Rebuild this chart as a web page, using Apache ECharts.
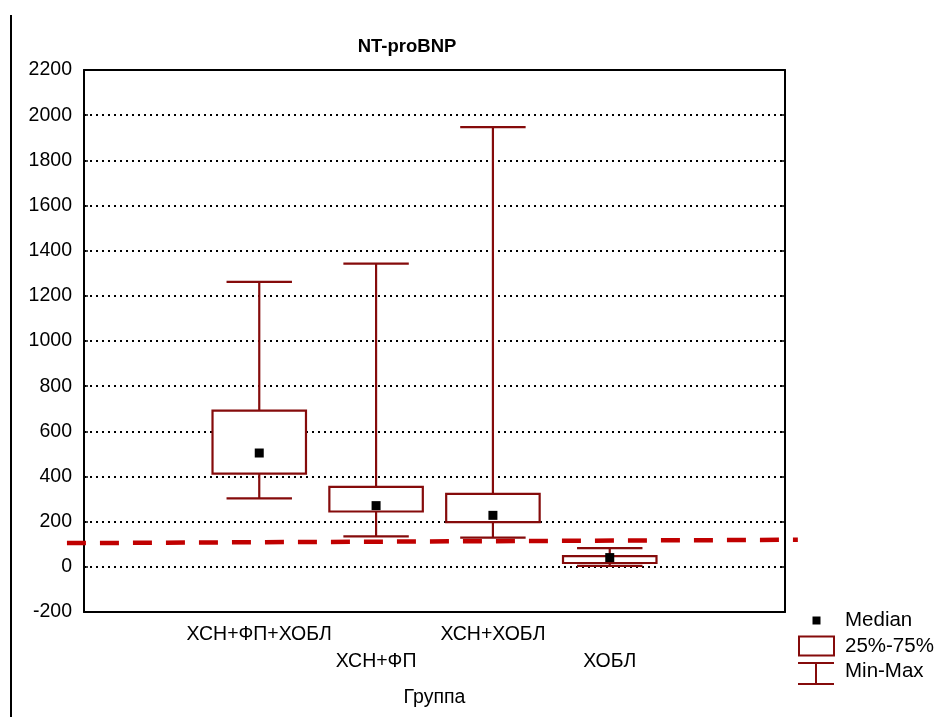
<!DOCTYPE html>
<html>
<head>
<meta charset="utf-8">
<script src="https://cdn.jsdelivr.net/npm/echarts@6/dist/echarts.min.js"></script>
<style>
  html, body { margin: 0; padding: 0; background: #fff; }
  #chart { width: 942px; height: 717px; }
</style>
</head>
<body>
<div id="chart"></div>
<script>
// Groups along the x axis (first and last slots are empty padding slots)
const categories = ['', 'ХСН+ФП+ХОБЛ', 'ХСН+ФП', 'ХСН+ХОБЛ', 'ХОБЛ', '\u00a0'];
const groupIndex = [1, 2, 3, 4];

// NT-proBNP statistics per group
const minValues    = [303, 135, 129, 4];
const q1Values     = [413, 245, 198, 17];
const medianValues = [504, 271, 228, 41];
const q3Values     = [692, 354, 323, 47];
const maxValues    = [1262, 1343, 1947, 83];

// Reference threshold line (endpoints on a 0..6 helper scale, y in pg/ml)
const refLineX = [-0.146, 6.11];
const refLineY = [105, 120];

const yTicks = { min: -200, max: 2200, step: 200 };

const FONT = 'Liberation Sans';
const BOX_COLOR = '#850b0b';

const boxData = groupIndex.map((g, i) => [g, minValues[i], q1Values[i], q3Values[i], maxValues[i]]);
const medianData = groupIndex.map((g, i) => [g, medianValues[i]]);
const refData = [[refLineX[0], refLineY[0], refLineX[1], refLineY[1]]];

function renderBox(params, api) {
  const x = api.value(0);
  const pMin = api.coord([x, api.value(1)]);
  const pQ1 = api.coord([x, api.value(2)]);
  const pQ3 = api.coord([x, api.value(3)]);
  const pMax = api.coord([x, api.value(4)]);
  const band = api.size([1, 0])[0];
  const boxW = band * 0.8;
  const capW = band * 0.56;
  const cx = pQ1[0];
  const st = { stroke: BOX_COLOR, lineWidth: 2.2, fill: null };
  return {
    type: 'group',
    children: [
      { type: 'line', shape: { x1: cx, y1: pQ3[1], x2: cx, y2: pMax[1] }, style: st },
      { type: 'line', shape: { x1: cx, y1: pQ1[1], x2: cx, y2: pMin[1] }, style: st },
      { type: 'line', shape: { x1: cx - capW / 2, y1: pMax[1], x2: cx + capW / 2, y2: pMax[1] }, style: st },
      { type: 'line', shape: { x1: cx - capW / 2, y1: pMin[1], x2: cx + capW / 2, y2: pMin[1] }, style: st },
      { type: 'rect', shape: { x: cx - boxW / 2, y: pQ3[1], width: boxW, height: pQ1[1] - pQ3[1] },
        style: { stroke: BOX_COLOR, lineWidth: 2.2, fill: '#fff' } }
    ]
  };
}

function renderRefLine(params, api) {
  const a = api.coord([api.value(0), api.value(1)]);
  const b = api.coord([api.value(2), api.value(3)]);
  return {
    type: 'line',
    shape: { x1: a[0], y1: a[1], x2: b[0], y2: b[1] },
    style: { stroke: '#c00000', lineWidth: 4.5, lineDash: [19, 14] }
  };
}

const chart = echarts.init(document.getElementById('chart'), null, { renderer: 'canvas' });

const axisLineStyle = { color: '#000', width: 2 };
const tickStyle = { color: '#000', width: 1.5 };

chart.setOption({
  animation: false,
  backgroundColor: '#fff',
  textStyle: { fontFamily: FONT },
  title: {
    text: 'NT-proBNP',
    left: 402,
    top: 32,
    textAlign: 'center',
    textStyle: { fontFamily: FONT, fontWeight: 'bold', fontSize: 18.5, color: '#000' }
  },
  grid: { left: 84, right: 157, top: 70, bottom: 105, containLabel: false },
  xAxis: [
    {
      type: 'category',
      data: categories,
      position: 'bottom',
      boundaryGap: true,
      axisLine: { onZero: false, lineStyle: axisLineStyle },
      axisTick: { inside: true, alignWithLabel: true, interval: 0, length: 4, lineStyle: tickStyle },
      axisLabel: {
        interval: 0,
        margin: 9,
        color: '#000',
        fontFamily: FONT,
        fontSize: 19.5,
        lineHeight: 27,
        formatter: (v, idx) => (idx % 2 === 0 ? '\n' + v : v)
      },
      name: 'Группа',
      nameLocation: 'middle',
      nameGap: 76,
      nameTextStyle: { color: '#000', fontFamily: FONT, fontSize: 19.5 }
    },
    {
      type: 'category',
      data: categories,
      position: 'top',
      boundaryGap: true,
      axisLine: { onZero: false, lineStyle: axisLineStyle },
      axisTick: { inside: true, alignWithLabel: true, interval: 0, length: 4, lineStyle: tickStyle },
      axisLabel: { show: false }
    },
    {
      type: 'value',
      min: 0,
      max: 6,
      show: false
    }
  ],
  yAxis: [
    {
      type: 'value',
      min: yTicks.min,
      max: yTicks.max,
      interval: yTicks.step,
      axisLine: { show: true, onZero: false, lineStyle: axisLineStyle },
      axisTick: { show: true, inside: true, length: 4, lineStyle: tickStyle },
      axisLabel: { color: '#000', fontFamily: FONT, fontSize: 19.5, margin: 12, formatter: (v) => String(v) },
      splitLine: { show: true, lineStyle: { color: '#000', width: 2, type: [2, 4] } }
    },
    {
      type: 'value',
      position: 'right',
      min: yTicks.min,
      max: yTicks.max,
      interval: yTicks.step,
      axisLine: { show: true, onZero: false, lineStyle: axisLineStyle },
      axisTick: { show: true, inside: true, length: 4, lineStyle: tickStyle },
      axisLabel: { show: false },
      splitLine: { show: false }
    }
  ],
  series: [
    {
      name: 'Порог',
      type: 'custom',
      xAxisIndex: 2,
      yAxisIndex: 0,
      renderItem: renderRefLine,
      encode: { x: [0, 2], y: [1, 3] },
      data: refData,
      clip: false,
      silent: true,
      z: 1
    },
    {
      name: '25%-75%',
      type: 'custom',
      xAxisIndex: 0,
      yAxisIndex: 0,
      renderItem: renderBox,
      encode: { x: 0, y: [1, 2, 3, 4] },
      data: boxData,
      z: 3
    },
    {
      name: 'Median',
      type: 'scatter',
      xAxisIndex: 0,
      yAxisIndex: 0,
      symbol: 'rect',
      symbolSize: 9,
      itemStyle: { color: '#000', opacity: 1 },
      data: medianData,
      z: 4
    }
  ],
  graphic: [
    // page frame line on the left edge
    { type: 'line', shape: { x1: 11, y1: 15, x2: 11, y2: 717 }, style: { stroke: '#000', lineWidth: 2 } },
    // legend
    { type: 'rect', shape: { x: 812.5, y: 616.5, width: 8, height: 8 }, style: { fill: '#000' } },
    { type: 'text', x: 845, y: 620.5, style: { text: 'Median', fontFamily: FONT, fontSize: 20.5, fill: '#000', verticalAlign: 'middle' } },
    { type: 'rect', shape: { x: 799, y: 636.5, width: 35, height: 19 }, style: { stroke: BOX_COLOR, lineWidth: 2, fill: '#fff' } },
    { type: 'text', x: 845, y: 646, style: { text: '25%-75%', fontFamily: FONT, fontSize: 20.5, fill: '#000', verticalAlign: 'middle' } },
    { type: 'line', shape: { x1: 798, y1: 663, x2: 834, y2: 663 }, style: { stroke: BOX_COLOR, lineWidth: 2 } },
    { type: 'line', shape: { x1: 816, y1: 663, x2: 816, y2: 684 }, style: { stroke: BOX_COLOR, lineWidth: 2 } },
    { type: 'line', shape: { x1: 798, y1: 684, x2: 834, y2: 684 }, style: { stroke: BOX_COLOR, lineWidth: 2 } },
    { type: 'text', x: 845, y: 671, style: { text: 'Min-Max', fontFamily: FONT, fontSize: 20.5, fill: '#000', verticalAlign: 'middle' } }
  ]
});
</script>
</body>
</html>
